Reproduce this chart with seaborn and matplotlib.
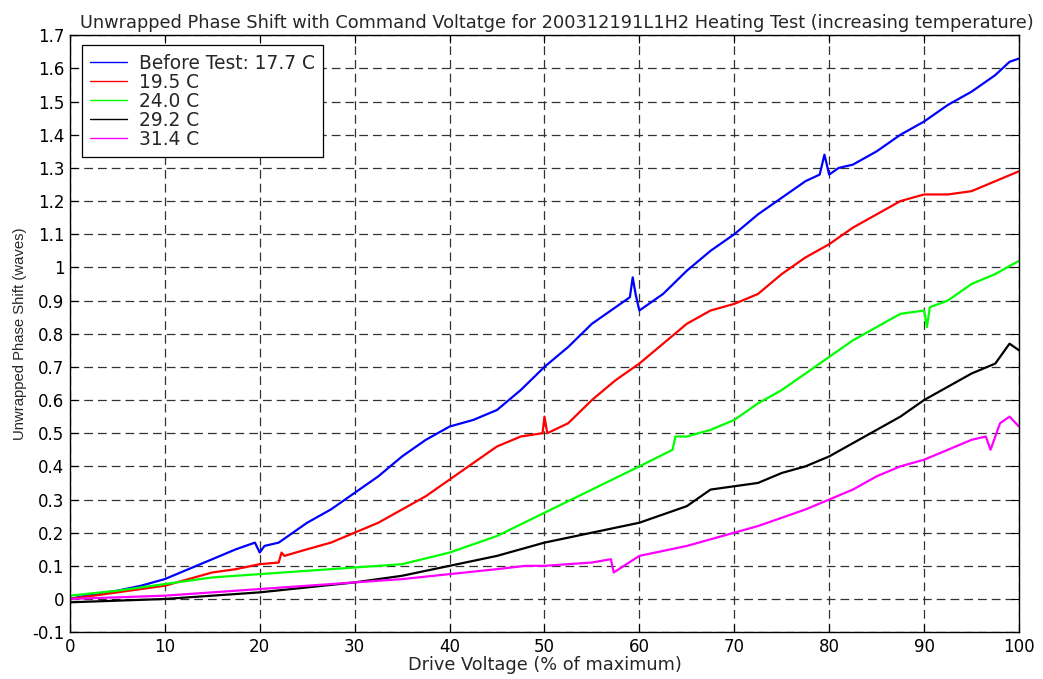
import numpy as np
import pandas as pd
import matplotlib
matplotlib.use("Agg")
import matplotlib.pyplot as plt
import seaborn as sns

title = "Unwrapped Phase Shift with Command Voltatge for 200312191L1H2 Heating Test (increasing temperature)"
xlabel = "Drive Voltage (% of maximum)"
ylabel = "Unwrapped Phase Shift (waves)"
series_names = ["Before Test: 17.7 C", "19.5 C", "24.0 C", "29.2 C", "31.4 C"]
series_colors = ["#0000ff", "#ff0000", "#00ff00", "#000000", "#ff00ff"]

blue_x = [0, 2.5, 5, 7.5, 10, 12.5, 15, 17.5, 19.5, 20, 20.5, 22, 25, 27.5, 30, 32.5, 35, 37.5, 40, 42.5, 45,
          47.5, 50, 52.5, 55, 57.5, 59, 59.3, 59.6, 60, 61, 62.5, 65, 67.5, 70, 72.5, 75, 77.5, 79, 79.5, 80,
          81, 82.5, 85, 87.5, 90, 92.5, 95, 97.5, 99, 100]
blue_y = [0.0, 0.015, 0.025, 0.04, 0.06, 0.09, 0.12, 0.15, 0.17, 0.14, 0.16, 0.17, 0.23, 0.27, 0.32, 0.37, 0.43,
          0.48, 0.52, 0.54, 0.57, 0.63, 0.70, 0.76, 0.83, 0.88, 0.91, 0.97, 0.92, 0.87, 0.89, 0.92, 0.99, 1.05,
          1.10, 1.16, 1.21, 1.26, 1.28, 1.34, 1.28, 1.30, 1.31, 1.35, 1.40, 1.44, 1.49, 1.53, 1.58, 1.62, 1.63]

red_x = [0, 2.5, 5, 7.5, 10, 12.5, 15, 17.5, 20, 22, 22.3, 22.6, 25, 27.5, 30, 32.5, 35, 37.5, 40, 42.5, 45,
         47.5, 49.8, 50, 50.3, 52.5, 55, 57.5, 60, 62.5, 65, 67.5, 70, 72.5, 75, 77.5, 80, 82.5, 85, 87.5, 90,
         92.5, 95, 97.5, 100]
red_y = [0.0, 0.01, 0.02, 0.03, 0.04, 0.06, 0.08, 0.09, 0.105, 0.11, 0.14, 0.13, 0.15, 0.17, 0.20, 0.23, 0.27,
         0.31, 0.36, 0.41, 0.46, 0.49, 0.50, 0.55, 0.50, 0.53, 0.60, 0.66, 0.71, 0.77, 0.83, 0.87, 0.89, 0.92,
         0.98, 1.03, 1.07, 1.12, 1.16, 1.20, 1.22, 1.22, 1.23, 1.26, 1.29]

green_x = [0, 5, 10, 15, 20, 25, 30, 35, 40, 45, 50, 55, 60, 63.5, 63.8, 65, 67.5, 70, 72.5, 75, 77.5, 80, 82.5,
           85, 87.5, 90, 90.3, 90.6, 92.5, 95, 97.5, 100]
green_y = [0.01, 0.025, 0.045, 0.065, 0.075, 0.085, 0.095, 0.105, 0.14, 0.19, 0.26, 0.33, 0.40, 0.45, 0.49, 0.49,
           0.51, 0.54, 0.59, 0.63, 0.68, 0.73, 0.78, 0.82, 0.86, 0.87, 0.82, 0.88, 0.90, 0.95, 0.98, 1.02]

black_x = [0, 5, 10, 15, 20, 25, 30, 35, 40, 45, 50, 55, 60, 65, 67.5, 70, 72.5, 75, 77.5, 80, 82.5, 85, 87.5,
           90, 92.5, 95, 97.5, 99, 100]
black_y = [-0.01, -0.005, 0.0, 0.01, 0.02, 0.035, 0.05, 0.07, 0.10, 0.13, 0.17, 0.20, 0.23, 0.28, 0.33, 0.34,
           0.35, 0.38, 0.40, 0.43, 0.47, 0.51, 0.55, 0.60, 0.64, 0.68, 0.71, 0.77, 0.75]

magenta_x = [0, 5, 10, 15, 20, 25, 30, 35, 40, 45, 48, 50, 52.5, 55, 57, 57.3, 60, 62.5, 65, 67.5, 70, 72.5, 75,
             77.5, 80, 82.5, 85, 87.5, 90, 92.5, 95, 96.5, 97, 98, 99, 100]
magenta_y = [0.0, 0.005, 0.01, 0.02, 0.03, 0.04, 0.05, 0.06, 0.075, 0.09, 0.10, 0.10, 0.105, 0.11, 0.12, 0.08,
             0.13, 0.145, 0.16, 0.18, 0.20, 0.22, 0.245, 0.27, 0.30, 0.33, 0.37, 0.40, 0.42, 0.45, 0.48, 0.49,
             0.45, 0.53, 0.55, 0.52]

xticks = [0, 10, 20, 30, 40, 50, 60, 70, 80, 90, 100]
yticks = [-0.1, 0, 0.1, 0.2, 0.3, 0.4, 0.5, 0.6, 0.7, 0.8, 0.9, 1, 1.1, 1.2, 1.3, 1.4, 1.5, 1.6, 1.7]
ytick_labels = ["-0.1", "0", "0.1", "0.2", "0.3", "0.4", "0.5", "0.6", "0.7", "0.8", "0.9", "1",
                "1.1", "1.2", "1.3", "1.4", "1.5", "1.6", "1.7"]

sns.set_theme(style="white")
plt.rcParams["font.family"] = ["DejaVu Sans"]

frames = []
for name, xs, ys in zip(series_names,
                        [blue_x, red_x, green_x, black_x, magenta_x],
                        [blue_y, red_y, green_y, black_y, magenta_y]):
    frames.append(pd.DataFrame({"x": xs, "y": ys, "series": name}))
df = pd.concat(frames, ignore_index=True)

fig = plt.figure(figsize=(10.43, 6.79), dpi=100)
ax = fig.add_axes([0.067, 0.069, 0.910, 0.879])

sns.lineplot(data=df, x="x", y="y", hue="series", hue_order=series_names,
             palette=dict(zip(series_names, series_colors)), sort=False, estimator=None,
             units="series", linewidth=1.6, ax=ax, legend=True)

ax.set_xlim(0, 100)
ax.set_ylim(-0.1, 1.7)
ax.set_xticks(xticks)
ax.set_xticklabels([str(t) for t in xticks])
ax.set_yticks(yticks)
ax.set_yticklabels(ytick_labels)
ax.tick_params(direction="in", length=6, width=0.8, colors="black", labelsize=12,
               top=True, right=True, bottom=True, left=True, pad=4)
ax.grid(True, color="#333333", linestyle=(0, (7, 4)), linewidth=0.9)
for s in ax.spines.values():
    s.set_visible(True)
    s.set_color("black")
    s.set_linewidth(1.0)

ax.set_title(title, fontsize=12.8, pad=5, x=0.513)
ax.set_xlabel(xlabel, fontsize=12.8, labelpad=0)
ax.set_ylabel(ylabel, fontsize=10.7, labelpad=4, family="Liberation Sans")

leg = ax.legend(loc="upper left", bbox_to_anchor=(0.0126, 0.983), borderaxespad=0, fontsize=13.4,
                frameon=True, fancybox=False, framealpha=1, edgecolor="black", handlelength=2.0,
                labelspacing=0.0, borderpad=0.45, handletextpad=0.6)
leg.get_frame().set_linewidth(0.9)
for line in leg.get_lines():
    line.set_linewidth(1.0)

fig.savefig("out.png", dpi=100)
